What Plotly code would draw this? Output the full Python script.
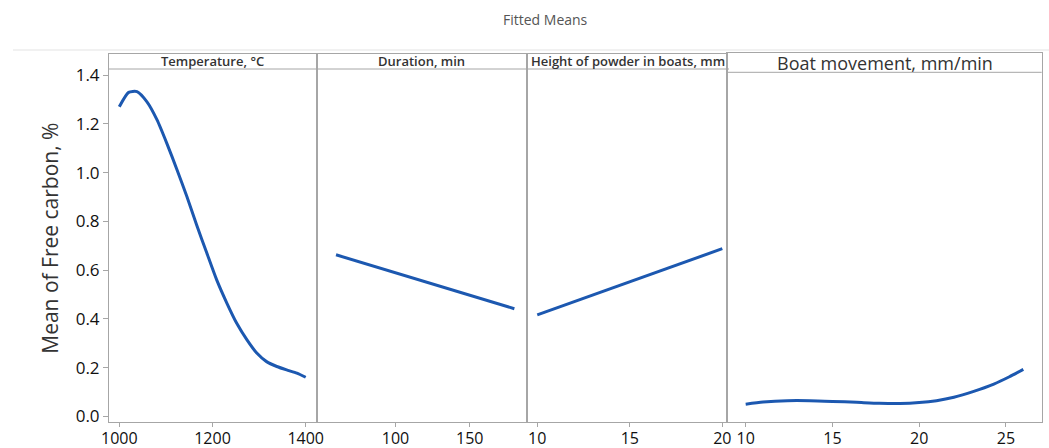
import plotly.graph_objects as go

# ---------------- data ----------------
temp_x = [1000, 1020, 1038, 1059, 1081, 1102, 1124, 1145, 1166, 1188, 1209, 1231,
          1252, 1274, 1295, 1316, 1338, 1359, 1381, 1400]
temp_y = [1.270, 1.329, 1.332, 1.291, 1.216, 1.120, 1.011, 0.902, 0.785, 0.669,
          0.560, 0.464, 0.382, 0.314, 0.260, 0.225, 0.205, 0.191, 0.178, 0.161]

dur_x = [60, 180]
dur_y = [0.663, 0.442]

height_x = [10, 20]
height_y = [0.417, 0.688]

boat_x = [10, 11, 12.4, 13.7, 15, 16.4, 17.7, 18.9, 20, 21, 22, 23.1, 24.3, 25.2, 26]
boat_y = [0.050, 0.059, 0.065, 0.065, 0.062, 0.058, 0.054, 0.053, 0.057, 0.065,
          0.079, 0.102, 0.133, 0.163, 0.193]

panel_titles = ["Temperature, °C", "Duration, min", "Height of powder in boats, mm",
                "Boat movement, mm/min"]
x_ticks = [[1000, 1200, 1400], [100, 150], [10, 15, 20], [10, 15, 20, 25]]
x_ranges = [[977.9, 1423.6], [47.0, 188.3], [9.43, 20.27], [8.94, 27.06]]
y_ticks = [0.0, 0.2, 0.4, 0.6, 0.8, 1.0, 1.2, 1.4]

# ---------------- layout geometry (pixels) ----------------
W, H = 1049, 448
px_x = lambda p: p / W
px_y = lambda p: 1 - p / H

panel_edges = [(109, 316.7), (316.7, 526.7), (526.7, 727.3), (727.3, 1041.7)]
bottom_px = 422.3
tops_px = [54, 54, 54, 52.7]
zero_px, px_per_unit = 416.5, 243.9

LINE_COLOR = "#1c58b0"
FRAME = "#a6a6a6"
FONT = "Open Sans"

fig = go.Figure()
series = [(temp_x, temp_y), (dur_x, dur_y), (height_x, height_y), (boat_x, boat_y)]

for i, (xs, ys) in enumerate(series):
    n = "" if i == 0 else str(i + 1)
    fig.add_trace(go.Scatter(x=xs, y=ys, mode="lines", xaxis="x" + n, yaxis="y" + n,
                             line=dict(color=LINE_COLOR, width=3, shape="spline",
                                       smoothing=0.6),
                             showlegend=False, hoverinfo="skip"))
    l, r = panel_edges[i]
    top = tops_px[i]
    y_lo = (zero_px - bottom_px) / px_per_unit
    y_hi = (zero_px - top) / px_per_unit
    xa = dict(domain=[px_x(l), px_x(r)], range=x_ranges[i], tickvals=x_ticks[i],
              showgrid=False, zeroline=False, showline=True, linecolor=FRAME,
              linewidth=1, mirror=True, ticks="outside", ticklen=4, tickcolor=FRAME,
              ticklabelstandoff=-3,
              tickfont=dict(family=FONT, size=16, color="#111111"),
              anchor="y" + n, automargin=False)
    ya = dict(domain=[px_y(bottom_px), px_y(top)], range=[y_lo, y_hi],
              showgrid=False, zeroline=False, showline=True, linecolor=FRAME,
              linewidth=1, mirror=True, anchor="x" + n, automargin=False)
    if i == 0:
        ya.update(tickvals=y_ticks, tickformat=".1f", ticks="outside", ticklen=5,
                  tickcolor=FRAME,
                  tickfont=dict(family=FONT, size=17, color="#111111"),
                  title=dict(text="Mean of Free carbon, %",
                             font=dict(family=FONT, size=21, color="#333333"),
                             standoff=11))
    else:
        ya.update(showticklabels=False, ticks="")
    fig.layout["xaxis" + n] = xa
    fig.layout["yaxis" + n] = ya

shapes = []
annotations = []
# header strips
shapes.append(dict(type="line", xref="paper", yref="paper", x0=px_x(109), x1=px_x(729),
                   y0=px_y(69), y1=px_y(69), line=dict(color=FRAME, width=1)))
shapes.append(dict(type="line", xref="paper", yref="paper", x0=px_x(727.3), x1=px_x(1041.7),
                   y0=px_y(72.3), y1=px_y(72.3), line=dict(color=FRAME, width=1)))
# thin separator under title
shapes.append(dict(type="line", xref="paper", yref="paper", x0=px_x(13), x1=1,
                   y0=px_y(50), y1=px_y(50), line=dict(color="#e3e3e3", width=1)))


def label(text, xpx, ypx, xanchor="center", size=13, weight=600, color="#333333"):
    annotations.append(dict(text=text, xref="paper", yref="paper",
                            x=px_x(xpx), y=px_y(ypx), xanchor=xanchor, yanchor="middle",
                            showarrow=False,
                            font=dict(family=FONT, size=size, color=color, weight=weight)))


label(panel_titles[0], 212, 61.5)
label(panel_titles[1], 421, 61.5)
label(panel_titles[2], 529, 61.5, xanchor="left")
label(panel_titles[3], 885, 63, size=18, weight=400)
label("Fitted Means", 545, 19, size=14, weight=400, color="#555555")

fig.update_layout(width=W, height=H, margin=dict(l=0, r=0, t=0, b=0, autoexpand=False),
                  paper_bgcolor="white", plot_bgcolor="white",
                  shapes=shapes, annotations=annotations)

fig.write_html("out.html", config={"displayModeBar": False},
               post_script="document.body.style.margin='0';document.body.style.overflow='hidden';")
